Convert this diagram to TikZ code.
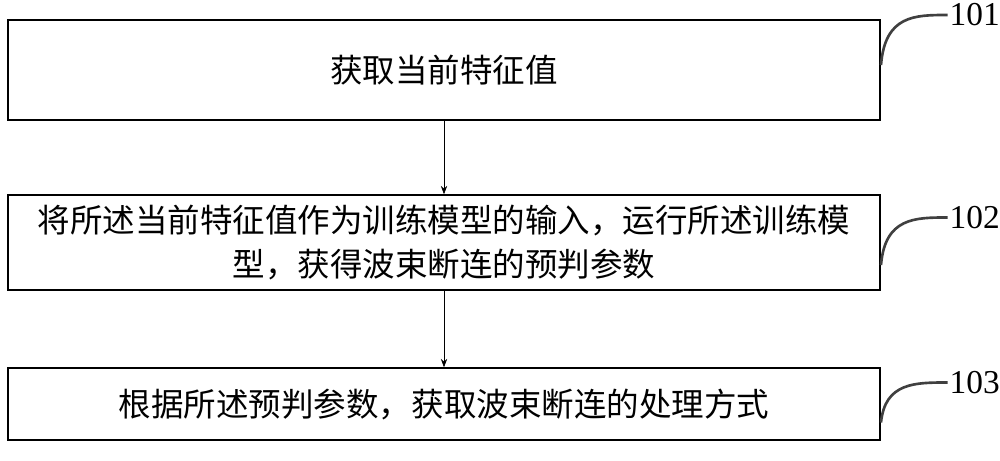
\documentclass[tikz,border=0pt]{standalone}
\usepackage{fontspec}
\setmainfont{Liberation Serif}
\newfontfamily\cjk{Noto Sans CJK SC}
\usetikzlibrary{arrows.meta}
\tikzset{
  stepbox/.style={draw,thick,minimum width=17.44cm,font=\cjk\fontsize{18.5}{25}\selectfont},
  leader/.style={line width=1.5pt,black!75},
  >={Stealth[black]}
}
\begin{document}
\begin{tikzpicture}
	\useasboundingbox (0,0) rectangle (20,9.2);
	\node[stepbox,minimum height=2cm] (s1) at (8.88,7.8) {获取当前特征值};
	\node[stepbox,minimum height=1.9cm,align=center] (s2) at (8.88,4.35)
		{将所述当前特征值作为训练模型的输入，运行所述训练模\\型，获得波束断连的预判参数};
	\node[stepbox,minimum height=1.44cm] (s3) at (8.88,1.12) {根据所述预判参数，获取波束断连的处理方式};
	\draw[->] (s1) -- (s2);
	\draw[->] (s2) -- (s3);
	\begin{scope}[every node/.style={font=\fontsize{19}{21}\selectfont,anchor=west,inner sep=1pt}]
		\node (n1) at (18.95,8.9) {101};
		\node (n2) at (18.95,4.85) {102};
		\node (n3) at (18.95,1.55) {103};
	\end{scope}
	\coordinate (c1) at (17.62,7.9);
	\coordinate (c2) at (17.62,3.9);
	\coordinate (c3) at (17.62,0.75);
	\draw[leader] (c1) .. controls (17.7,8.9) and (18.3,8.9) .. (n1.west);
	\draw[leader] (c2) .. controls (17.7,4.85) and (18.3,4.85) .. (n2.west);
	\draw[leader] (c3) .. controls (17.7,1.55) and (18.3,1.55) .. (n3.west);
\end{tikzpicture}
\end{document}
